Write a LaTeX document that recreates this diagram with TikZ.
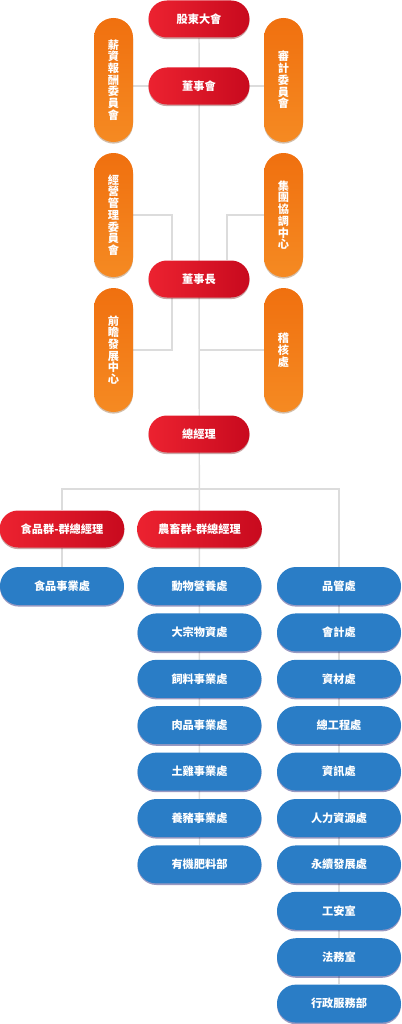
\documentclass[tikz,border=0pt]{standalone}
\usepackage{fontspec}
\setmainfont{Noto Sans CJK TC}
\usetikzlibrary{calc,backgrounds,shadows}
\definecolor{hongA}{HTML}{EC2230}
\definecolor{hongB}{HTML}{C80A1E}
\definecolor{chengA}{HTML}{F0700F}
\definecolor{chengB}{HTML}{F58A22}
\definecolor{lanse}{HTML}{2A7DC6}
\definecolor{xian}{HTML}{DCDCDC}
\tikzset{
	hong/.style={rectangle, rounded corners=13.8pt, minimum width=75.75pt, minimum height=27.75pt,
		left color=hongA, right color=hongB, text=white, font=\fontsize{8.4}{9}\selectfont\bfseries,
		drop shadow={shadow xshift=0pt, shadow yshift=-1.2pt, opacity=.35, fill=black!60!red}},
	qun/.style={hong, minimum width=93.5pt},
	cheng/.style={rectangle, rounded corners=14.6pt, minimum width=29.25pt, minimum height=93pt,
		top color=chengA, bottom color=chengB, text=white, align=center, inner sep=0pt,
		font=\fontsize{8.4}{8.8}\selectfont\bfseries,
		drop shadow={shadow xshift=0pt, shadow yshift=-1.2pt, opacity=.35, fill=black!50!orange}},
	lan/.style={rectangle, rounded corners=14.2pt, minimum width=93pt, minimum height=28.5pt,
		fill=lanse, text=white, font=\fontsize{8.4}{9}\selectfont\bfseries,
		drop shadow={shadow xshift=0pt, shadow yshift=-1.2pt, opacity=.4, fill=black!60!blue}},
	lianxian/.style={color=xian, line width=1.1pt}
}
\begin{document}
\begin{tikzpicture}[x=0.75pt, y=-0.75pt]
	\useasboundingbox (0,0) rectangle (401,1024);

	% 董事會 一帶
	\node[hong] (gd) at (199,19) {股東大會};
	\node[hong] (dsh) at (199,86) {董事會};
	\node[hong] (dsz) at (199,279) {董事長};
	\node[hong] (zjl) at (199,434) {總經理};

	\node[cheng] (xc) at (113.5,80) {薪\\資\\報\\酬\\委\\員\\會};
	\node[cheng] (sj) at (283.5,80) {審\\計\\委\\員\\會};
	\node[cheng] (jy) at (113.5,215) {經\\營\\管\\理\\委\\員\\會};
	\node[cheng] (jt) at (283.5,215) {集\\團\\協\\調\\中\\心};
	\node[cheng] (qz) at (113.5,350) {前\\瞻\\發\\展\\中\\心};
	\node[cheng] (jh) at (283.5,350) {稽\\核\\處};

	% 事業群
	\node[qun] (fg) at (62,529) {食品群-群總經理};
	\node[qun] (ng) at (199.5,529) {農畜群-群總經理};
	\node[lan] (f1) at (62,586) {食品事業處};

	\foreach \n/\t [count=\i] in {m1/動物營養處, m2/大宗物資處, m3/飼料事業處, m4/肉品事業處,
		m5/土雞事業處, m6/養豬事業處, m7/有機肥料部}
		\node[lan] (\n) at (199.5,{586+46.4*(\i-1)}) {\t};

	\foreach \n/\t [count=\i] in {r1/品管處, r2/會計處, r3/資材處, r4/總工程處, r5/資訊處,
		r6/人力資源處, r7/永續發展處, r8/工安室, r9/法務室, r10/行政服務部}
		\node[lan] (\n) at (339,{586+46.4*(\i-1)}) {\t};

	\coordinate (br) at (199,489);

	\begin{scope}[on background layer]
		\draw[lianxian] (gd) -- (m7);
		\draw[lianxian] (xc.east |- dsh.center) -- (sj.west |- dsh.center);
		\draw[lianxian] (jy.east) -| ($(dsz.north)+(-27,0)$);
		\draw[lianxian] (jt.west) -| ($(dsz.north)+(28,0)$);
		\draw[lianxian] (qz.east) -| ($(dsz.south)+(-27,0)$);
		\draw[lianxian] (jh.west) -- (jh.west -| zjl.center);
		\draw[lianxian] (fg) |- (br) -| (r1);
		\draw[lianxian] (fg) -- (f1);
		\draw[lianxian] (r1) -- (r10);
	\end{scope}
\end{tikzpicture}
\end{document}
